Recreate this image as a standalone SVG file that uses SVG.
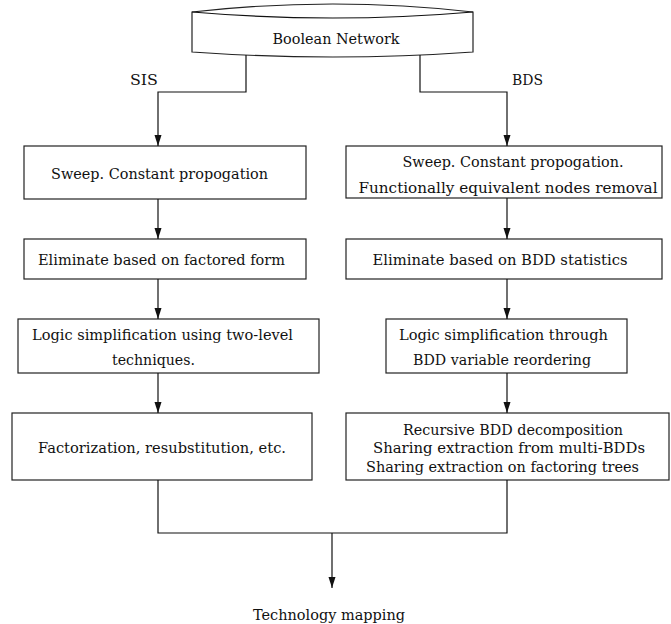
<svg xmlns="http://www.w3.org/2000/svg" width="671" height="624" viewBox="0 0 671 624">
  <style>
    .box { fill: #ffffff; stroke: #222222; stroke-width: 1.2; }
    .wire { fill: none; stroke: #111111; stroke-width: 1.2; }
    .lbl { font-family: "DejaVu Serif", "Liberation Serif", serif; font-size: 15.5px; fill: #111111; }
    .mid { text-anchor: middle; }
  </style>
  <defs>
    <marker id="arrow" markerUnits="userSpaceOnUse" markerWidth="12" markerHeight="8" refX="11" refY="3.5" orient="auto">
      <path d="M0,0 L11,3.5 L0,7 Z" fill="#111111"/>
    </marker>
  </defs>

  <rect width="671" height="624" fill="#ffffff"/>

  <!-- source: network store shape -->
  <g id="boolean-network">
    <path class="box" d="M192,12 Q333,-4 473,12 L473,52 Q333,62 192,52 Z"/>
    <path class="wire" d="M192,12 Q333,24 473,12"/>
    <text class="lbl mid" x="336" y="44" textLength="127" lengthAdjust="spacingAndGlyphs">Boolean Network</text>
  </g>

  <!-- SIS flow (left column) -->
  <g id="sis-sweep">
    <rect class="box" x="24" y="146" width="282" height="53"/>
    <text class="lbl mid" x="159.5" y="179" textLength="217" lengthAdjust="spacingAndGlyphs">Sweep. Constant propogation</text>
  </g>
  <g id="sis-eliminate">
    <rect class="box" x="24" y="239" width="282" height="40"/>
    <text class="lbl mid" x="161.5" y="265" textLength="247" lengthAdjust="spacingAndGlyphs">Eliminate based on factored form</text>
  </g>
  <g id="sis-simplify">
    <rect class="box" x="18" y="319" width="301" height="54"/>
    <text class="lbl mid" x="162.5" y="340" textLength="261" lengthAdjust="spacingAndGlyphs">Logic simplification using two-level</text>
    <text class="lbl mid" x="153.5" y="365" textLength="83" lengthAdjust="spacingAndGlyphs">techniques.</text>
  </g>
  <g id="sis-factor">
    <rect class="box" x="12" y="413" width="300" height="67"/>
    <text class="lbl mid" x="162" y="453" textLength="248" lengthAdjust="spacingAndGlyphs">Factorization, resubstitution, etc.</text>
  </g>

  <!-- BDS flow (right column) -->
  <g id="bds-sweep">
    <rect class="box" x="346" y="146" width="316" height="52"/>
    <text class="lbl mid" x="513" y="167" textLength="221" lengthAdjust="spacingAndGlyphs">Sweep. Constant propogation.</text>
    <text class="lbl mid" x="508" y="193" textLength="299" lengthAdjust="spacingAndGlyphs">Functionally equivalent nodes removal</text>
  </g>
  <g id="bds-eliminate">
    <rect class="box" x="346" y="239" width="316" height="40"/>
    <text class="lbl mid" x="500" y="265" textLength="255" lengthAdjust="spacingAndGlyphs">Eliminate based on BDD statistics</text>
  </g>
  <g id="bds-reorder">
    <rect class="box" x="386" y="319" width="241" height="54"/>
    <text class="lbl mid" x="503.5" y="340" textLength="209" lengthAdjust="spacingAndGlyphs">Logic simplification through</text>
    <text class="lbl mid" x="502" y="365" textLength="178" lengthAdjust="spacingAndGlyphs">BDD variable reordering</text>
  </g>
  <g id="bds-decompose">
    <rect class="box" x="346" y="413" width="323" height="67"/>
    <text class="lbl mid" x="513" y="435" textLength="220" lengthAdjust="spacingAndGlyphs">Recursive BDD decomposition</text>
    <text class="lbl mid" x="509" y="453" textLength="272" lengthAdjust="spacingAndGlyphs">Sharing extraction from multi-BDDs</text>
    <text class="lbl mid" x="502.5" y="472" textLength="273" lengthAdjust="spacingAndGlyphs">Sharing extraction on factoring trees</text>
  </g>

  <!-- sink -->
  <g id="technology-mapping">
    <text class="lbl mid" x="329" y="620" textLength="152" lengthAdjust="spacingAndGlyphs">Technology mapping</text>
  </g>

  <!-- connectors -->
  <g id="connectors">
    <path class="wire" d="M246,55 V92 H158 V146" marker-end="url(#arrow)"/>
    <path class="wire" d="M420,55 V92 H507 V146" marker-end="url(#arrow)"/>
    <path class="wire" d="M158,199 V239" marker-end="url(#arrow)"/>
    <path class="wire" d="M507,198 V239" marker-end="url(#arrow)"/>
    <path class="wire" d="M158,279 V319" marker-end="url(#arrow)"/>
    <path class="wire" d="M507,279 V319" marker-end="url(#arrow)"/>
    <path class="wire" d="M158,373 V413" marker-end="url(#arrow)"/>
    <path class="wire" d="M507,373 V413" marker-end="url(#arrow)"/>
    <path class="wire" d="M158,480 V533 H507 V480"/>
    <path class="wire" d="M332,533 V588" marker-end="url(#arrow)"/>
    <text class="lbl" x="130" y="85" textLength="28" lengthAdjust="spacingAndGlyphs">SIS</text>
    <text class="lbl" x="512" y="85" textLength="31" lengthAdjust="spacingAndGlyphs">BDS</text>
  </g>
</svg>
